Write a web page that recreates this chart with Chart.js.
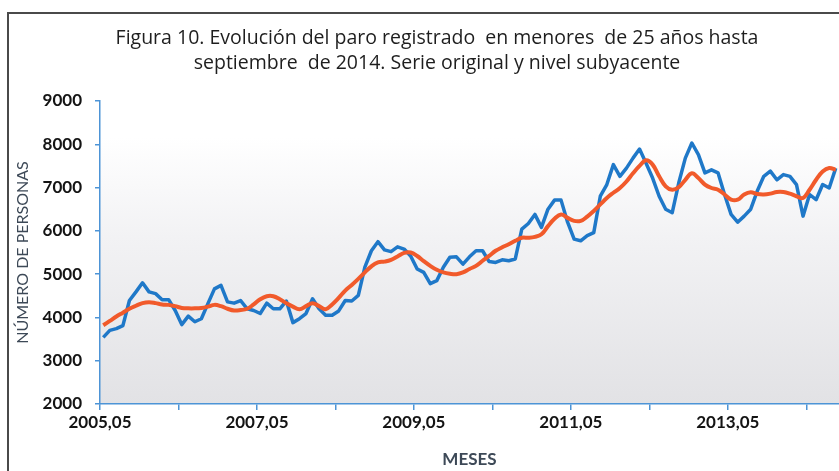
<!DOCTYPE html>
<html lang="es">
<head>
<meta charset="utf-8">
<title>Figura 10</title>
<script src="https://cdn.jsdelivr.net/npm/chart.js@4.4.1/dist/chart.umd.min.js"></script>
<style>
  html, body { margin: 0; padding: 0; background: #fff; }
  #wrap { position: relative; width: 839px; height: 471px; }
</style>
</head>
<body>
<div id="wrap"><canvas id="chart" width="839" height="471"></canvas></div>
<script>
// Paro registrado en menores de 25 años, mensual desde 2005,05 hasta 2014,09

// labels shown under every second yearly tick
const TICK_LABELS = ['2005,05', '2007,05', '2009,05', '2011,05', '2013,05'];

const SERIE_ORIGINAL = [
    3540, 3700, 3740, 3810, 4390, 4590, 4800, 4590, 4550, 4410,
    4410, 4160, 3835, 4030, 3900, 3970, 4320, 4660, 4740, 4360,
    4330, 4390, 4200, 4160, 4090, 4330, 4200, 4200, 4380, 3880,
    3970, 4090, 4430, 4200, 4050, 4050, 4150, 4390, 4380, 4510,
    5160, 5540, 5750, 5560, 5520, 5630, 5580, 5420, 5120, 5040,
    4780, 4850, 5160, 5390, 5400, 5230, 5400, 5540, 5540, 5290,
    5270, 5330, 5310, 5350, 6040, 6170, 6380, 6080, 6500, 6710,
    6710, 6200, 5810, 5770, 5890, 5960, 6800, 7070, 7530, 7260,
    7450, 7680, 7890, 7560, 7220, 6800, 6500, 6420, 7110, 7680,
    8030, 7760, 7340, 7410, 7340, 6840, 6380, 6200, 6340, 6500,
    6920, 7260, 7380, 7180, 7300, 7260, 7070, 6340, 6840, 6720,
    7070, 6990, 7450
];

const NIVEL_SUBYACENTE = [
    3820, 3920, 4020, 4110, 4200, 4270, 4330, 4350, 4330, 4300,
    4290, 4260, 4220, 4210, 4210, 4220, 4250, 4290, 4260, 4200,
    4160, 4170, 4200, 4300, 4420, 4490, 4490, 4420, 4330, 4250,
    4190, 4260, 4330, 4260, 4190, 4300, 4450, 4620, 4750, 4890,
    5040, 5180, 5270, 5290, 5330, 5410, 5490, 5500, 5420, 5300,
    5190, 5100, 5040, 5010, 5000, 5040, 5120, 5190, 5310, 5420,
    5540, 5620, 5690, 5770, 5840, 5840, 5860, 5920, 6110, 6280,
    6380, 6300, 6230, 6230, 6330, 6460, 6610, 6760, 6880, 6990,
    7140, 7330, 7500, 7630, 7530, 7260, 7030, 6950, 7010, 7180,
    7330, 7220, 7070, 6990, 6950, 6840, 6720, 6720, 6840, 6890,
    6850, 6840, 6860, 6900, 6900, 6860, 6800, 6760, 6950, 7180,
    7370, 7450, 7410
];

const TITLE_LINES = [
    'Figura 10. Evolución del paro registrado  en menores  de 25 años hasta',
    'septiembre  de 2014. Serie original y nivel subyacente'
];

const AXIS_BLUE = '#4d94d6';
const TITLE_GREY = '#3d4957';
const FONT = 'Lato, "Open Sans", sans-serif';

// each month sits in the middle of its slot, like an Excel category axis
const toPoints = values => values.map((v, i) => ({ x: i + 0.5, y: v }));

const yearTicks = [];
for (let m = 0; m <= SERIE_ORIGINAL.length; m += 12) {
    yearTicks.push(m);
}

const plotBackground = {
    id: 'plotBackground',
    beforeDraw(chart) {
        const { ctx, chartArea: a } = chart;
        const g = ctx.createLinearGradient(0, a.top, 0, a.bottom);
        g.addColorStop(0, '#ffffff');
        g.addColorStop(0.12, '#ffffff');
        g.addColorStop(0.45, '#f2f2f4');
        g.addColorStop(1, '#e2e2e5');
        ctx.save();
        ctx.fillStyle = g;
        ctx.fillRect(a.left, a.top, a.right - a.left, a.bottom - a.top);
        ctx.restore();
    }
};

// the original figure is cut on the right, so its title is centred further right
const titleShift = {
    id: 'titleShift',
    afterLayout(chart) {
        if (chart.titleBlock) {
            chart.titleBlock.left = 35;
        }
    }
};

const pageFrame = {
    id: 'pageFrame',
    afterDraw(chart) {
        const { ctx, width, height } = chart;
        ctx.save();
        ctx.strokeStyle = '#4a4a4a';
        ctx.lineWidth = 2;
        ctx.beginPath();
        ctx.moveTo(8, height);
        ctx.lineTo(8, 13);
        ctx.lineTo(width, 13);
        ctx.stroke();
        ctx.restore();
    }
};

const canvas = document.getElementById('chart');

new Chart(canvas, {
    type: 'line',
    data: {
        datasets: [
            {
                label: 'Nivel subyacente',
                data: toPoints(NIVEL_SUBYACENTE),
                borderColor: '#f15a2b',
                borderWidth: 4,
                tension: 0.4,
                pointRadius: 0,
                order: 1
            },
            {
                label: 'Serie original',
                data: toPoints(SERIE_ORIGINAL),
                borderColor: '#1f78c8',
                borderWidth: 3.5,
                borderJoinStyle: 'round',
                tension: 0,
                pointRadius: 0,
                order: 2
            }
        ]
    },
    options: {
        responsive: false,
        animation: false,
        devicePixelRatio: 1,
        layout: { padding: 0 },
        plugins: {
            legend: { display: false },
            tooltip: { enabled: false },
            title: {
                display: true,
                text: TITLE_LINES,
                color: '#1e1e1e',
                font: { family: '"Open Sans", sans-serif', size: 19.5, weight: 'normal', lineHeight: 25 / 19.5 },
                padding: { top: 26, bottom: 25 }
            }
        },
        scales: {
            x: {
                type: 'linear',
                min: 0,
                max: 113,
                afterBuildTicks: scale => {
                    scale.ticks = yearTicks.map(v => ({ value: v }));
                },
                afterFit: scale => {
                    scale.height = 67;
                },
                ticks: {
                    autoSkip: false,
                    maxRotation: 0,
                    padding: 2,
                    color: '#141414',
                    font: { family: FONT, size: 17, weight: 'bold' },
                    callback: value => (value % 24 === 0 ? TICK_LABELS[value / 24] || '' : '')
                },
                grid: {
                    drawOnChartArea: false,
                    drawTicks: true,
                    tickLength: 6,
                    color: AXIS_BLUE,
                    lineWidth: 1.5
                },
                border: { color: AXIS_BLUE, width: 1.5 },
                title: {
                    display: true,
                    text: 'MESES',
                    color: TITLE_GREY,
                    font: { family: FONT, size: 17, weight: 'bold' },
                    padding: { top: 0, bottom: 1 }
                }
            },
            y: {
                min: 2000,
                max: 9000,
                afterFit: scale => {
                    scale.width = 100;
                },
                ticks: {
                    stepSize: 1000,
                    padding: 13,
                    color: '#141414',
                    font: { family: FONT, size: 17, weight: 'bold' },
                    callback: value => String(value)
                },
                grid: {
                    drawOnChartArea: false,
                    drawTicks: true,
                    tickLength: 5,
                    color: AXIS_BLUE,
                    lineWidth: 1.5
                },
                border: { color: AXIS_BLUE, width: 1.5 },
                title: {
                    display: true,
                    text: 'NÚMERO DE PERSONAS',
                    color: TITLE_GREY,
                    font: { family: FONT, size: 16, weight: 'normal' },
                    padding: { top: 13, bottom: 0 }
                }
            }
        }
    },
    plugins: [plotBackground, titleShift, pageFrame]
});
</script>
</body>
</html>
